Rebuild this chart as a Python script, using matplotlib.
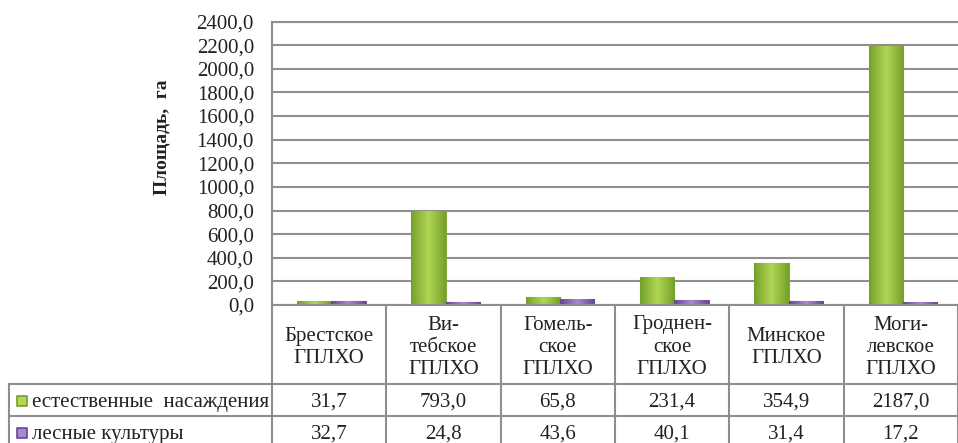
import numpy as np
import matplotlib
matplotlib.use("Agg")
import matplotlib.pyplot as plt
from matplotlib.ticker import FuncFormatter, MultipleLocator
from matplotlib.colors import LinearSegmentedColormap

plt.rcParams['font.family'] = ['Liberation Serif', 'DejaVu Serif']

# data
categories = ["Брестское\nГПЛХО", "Ви-\nтебское\nГПЛХО", "Гомель-\nское\nГПЛХО",
              "Гроднен-\nское\nГПЛХО", "Минское\nГПЛХО", "Моги-\nлевское\nГПЛХО"]
series_names = ["естественные  насаждения", "лесные культуры"]
natural = [31.7, 793.0, 65.8, 231.4, 354.9, 2187.0]
planted = [32.7, 24.8, 43.6, 40.1, 31.4, 17.2]
series = [natural, planted]

# styles
W, H = 958, 443
ax_left, ax_right, ax_bottom, ax_top = 272, 958, 305, 21.5
grid_col = '#8e8e8e'
fills = [('#75a02a', '#b2d655'), ('#6a4596', '#a88ad0')]
edge_cols = ['#86ab3e', '#7458a0']
fs = 15
txt_col = '#222222'

fig = plt.figure(figsize=(W / 100, H / 100), dpi=100)
ax = fig.add_axes([ax_left / W, (H - ax_bottom) / H,
                   (ax_right - ax_left) / W, (ax_bottom - ax_top) / H])

x = np.arange(len(categories))
bw = 0.3
offsets = [-0.13, 0.17]
for vals, off, (dark, light), ec in zip(series, offsets, fills, edge_cols):
    bars = ax.bar(x + off, vals, width=bw, color=light, edgecolor=ec,
                  linewidth=0.8, zorder=3)
    cmap = LinearSegmentedColormap.from_list('g', [dark, light, dark])
    grad = np.linspace(0, 1, 64).reshape(1, -1)
    for b in bars:
        bx, by = b.get_x(), b.get_y()
        ax.imshow(grad, cmap=cmap, aspect='auto', zorder=3,
                  extent=[bx, bx + b.get_width(), by, by + b.get_height()],
                  clip_path=b, clip_on=True)

ax.set_xlim(-0.5, len(categories) - 0.5)
ax.set_ylim(0, 2400)
ax.yaxis.set_major_locator(MultipleLocator(200))
ax.yaxis.set_major_formatter(FuncFormatter(lambda v, p: f"{v:.1f}".replace('.', ',')))
ax.tick_params(axis='y', length=0, pad=13, labelsize=fs, labelcolor=txt_col)
ax.set_xticks([])
ax.grid(axis='y', color=grid_col, linewidth=1.5, zorder=0)
for s in ['right', 'bottom']:
    ax.spines[s].set_visible(False)
for s in ['left', 'top']:
    ax.spines[s].set_color(grid_col)
    ax.spines[s].set_linewidth(1.5)

fig.text(162 / W, 1 - 137 / H, "Площадь,  га", rotation=90, ha='center',
         va='center', fontsize=14, fontweight='bold', color=txt_col)

# data table below the chart, drawn in pixel coordinates
tb = fig.add_axes([0, 0, 1, 1])
tb.set_xlim(0, W)
tb.set_ylim(H, 0)
tb.axis('off')

col_w = (ax_right - ax_left) / len(categories)
row_y = [ax_bottom, 384, 416, 448]
lkw = dict(color=grid_col, linewidth=1.5, zorder=1)
tb.plot([ax_left, W], [row_y[0], row_y[0]], **lkw)
for yy in row_y[1:3]:
    tb.plot([9, W], [yy, yy], **lkw)
tb.plot([9, 9], [row_y[1], H], **lkw)
for i in range(len(categories) + 1):
    xx = ax_left + i * col_w
    tb.plot([xx, xx], [row_y[0], H], **lkw)

for i, cat in enumerate(categories):
    cx = ax_left + (i + 0.5) * col_w
    tb.text(cx, (row_y[0] + row_y[1]) / 2 + 3, cat, ha='center', va='center',
            fontsize=fs, linespacing=1.25, color=txt_col)
    for r, vals in enumerate(series):
        cy = (row_y[r + 1] + row_y[r + 2]) / 2 + 2
        tb.text(cx, cy, f"{vals[i]:.1f}".replace('.', ','), ha='center',
                va='center', fontsize=fs, color=txt_col)

for r, (name, (dark, light)) in enumerate(zip(series_names, fills)):
    cy = (row_y[r + 1] + row_y[r + 2]) / 2 + 1
    tb.scatter([22], [cy], marker='s', s=60, color=light, edgecolor=dark,
               linewidth=1.2, zorder=2)
    tb.text(32, cy + 1, name, ha='left', va='center', fontsize=fs, color=txt_col)

fig.savefig("out.png", dpi=100)
